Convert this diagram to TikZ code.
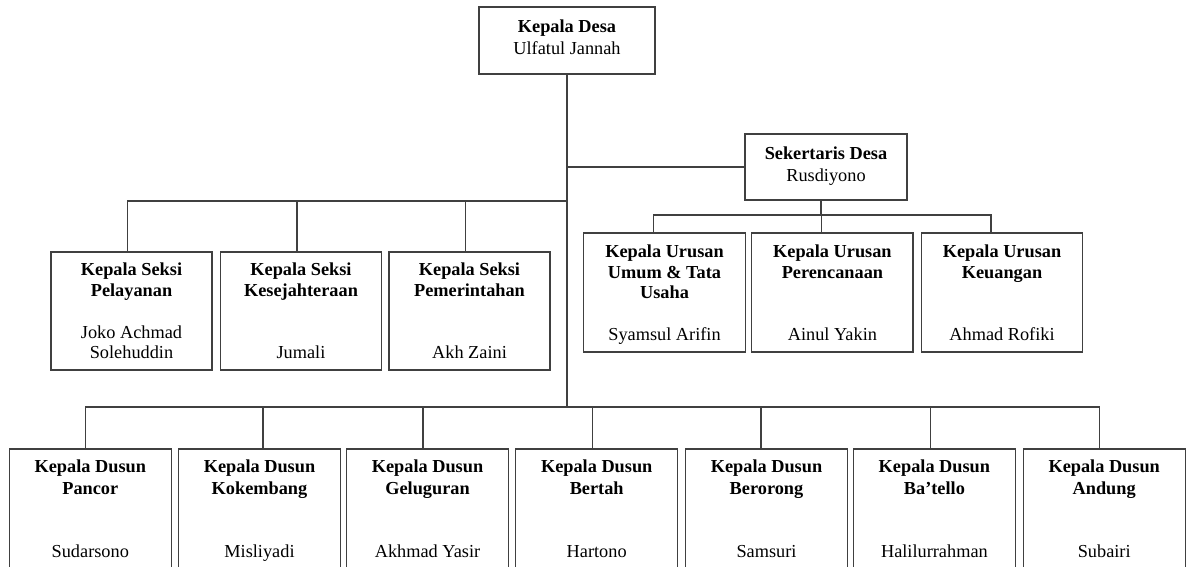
\documentclass[tikz,border=0pt]{standalone}
\usepackage{fontspec}
\setmainfont{Liberation Serif}
\begin{document}
\begin{tikzpicture}[x=0.5pt, y=-0.5pt,
box_style/.style={draw=black!75, line width=0.7pt, align=center, inner sep=0pt, font=\fontsize{9.15}{10.4}\selectfont,
  execute at begin node=\strut, execute at end node=\strut},
head_style/.style={box_style, font=\fontsize{9.15}{11}\selectfont},
kades_style/.style={head_style, minimum width=88pt, minimum height=33.5pt},
sekdes_style/.style={head_style, minimum width=81pt, minimum height=33pt},
seksi_style/.style={box_style, text depth=-1.9pt, minimum width=80.5pt, minimum height=59pt},
urusan_style/.style={box_style, text depth=-1.9pt, minimum width=80.75pt, minimum height=59.5pt},
dusun_style/.style={box_style, font=\fontsize{9.15}{10.6}\selectfont, text depth=-0.8pt, minimum width=81pt, minimum height=60pt},
edge_style/.style={draw=black!75, line width=0.55pt}]
\clip (0,0) rectangle (1188,567);
\fill[white] (0,0) rectangle (1188,567);
\node[kades_style] (kades) at (567,40.5) {\textbf{Kepala Desa}\\Ulfatul Jannah};
\node[sekdes_style] (sekdes) at (826,167) {\textbf{Sekertaris Desa}\\Rusdiyono};
\node[seksi_style] (s1) at (131.5,311) {\textbf{Kepala Seksi}\\\textbf{Pelayanan}\\~\\Joko Achmad\\Solehuddin};
\node[seksi_style] (s2) at (301,311) {\textbf{Kepala Seksi}\\\textbf{Kesejahteraan}\\~\\~\\Jumali};
\node[seksi_style] (s3) at (469.5,311) {\textbf{Kepala Seksi}\\\textbf{Pemerintahan}\\~\\~\\Akh Zaini};
\node[urusan_style] (u1) at (664.5,292.5) {\textbf{Kepala Urusan}\\\textbf{Umum \& Tata}\\\textbf{Usaha}\\~\\Syamsul Arifin};
\node[urusan_style] (u2) at (832.4,292.5) {\textbf{Kepala Urusan}\\\textbf{Perencanaan}\\~\\~\\Ainul Yakin};
\node[urusan_style] (u3) at (1002,292.5) {\textbf{Kepala Urusan}\\\textbf{Keuangan}\\~\\~\\Ahmad Rofiki};
\node[dusun_style] (d1) at (90.3,509) {\textbf{Kepala Dusun}\\\textbf{Pancor}\\~\\~\\Sudarsono};
\node[dusun_style] (d2) at (259.5,509) {\textbf{Kepala Dusun}\\\textbf{Kokembang}\\~\\~\\Misliyadi};
\node[dusun_style] (d3) at (427.5,509) {\textbf{Kepala Dusun}\\\textbf{Geluguran}\\~\\~\\Akhmad Yasir};
\node[dusun_style] (d4) at (596.7,509) {\textbf{Kepala Dusun}\\\textbf{Bertah}\\~\\~\\Hartono};
\node[dusun_style] (d5) at (766.5,509) {\textbf{Kepala Dusun}\\\textbf{Berorong}\\~\\~\\Samsuri};
\node[dusun_style] (d6) at (934.4,509) {\textbf{Kepala Dusun}\\\textbf{Ba’tello}\\~\\~\\Halilurrahman};
\node[dusun_style] (d7) at (1104.2,509) {\textbf{Kepala Dusun}\\\textbf{Andung}\\~\\~\\Subairi};
\coordinate (seksibar) at (567,201);
\coordinate (urusanbar) at (821,215);
\coordinate (dusunbar) at (567,407);
\draw[edge_style] (kades.south) -- (kades.south |- dusunbar);
\draw[edge_style] (sekdes.west) -- (sekdes.west -| kades.south);
\draw[edge_style] (sekdes.south -| urusanbar) -- (urusanbar);
\foreach \n in {s1,s2,s3}
  \draw[edge_style] ([xshift=-2pt]\n.north) |- (seksibar);
\foreach \n in {u1,u2,u3}
  \draw[edge_style] ([xshift=-5.5pt]\n.north) |- (urusanbar);
\foreach \n/\dx in {d1/-2.5,d2/1.75,d3/-2.25,d4/-2,d5/-2.75,d6/-2,d7/-2.5}
  \draw[edge_style] ([xshift=\dx pt]\n.north) |- (dusunbar);
\end{tikzpicture}
\end{document}
